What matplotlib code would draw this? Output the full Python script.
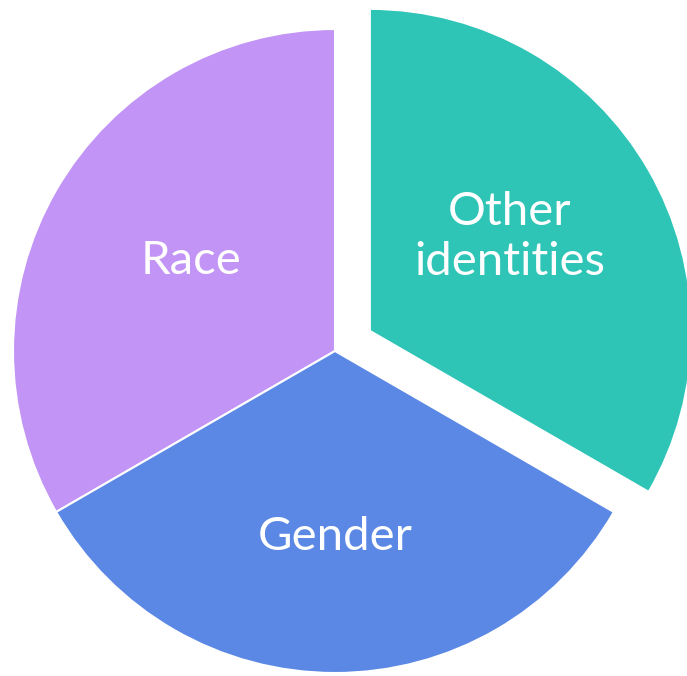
import matplotlib
matplotlib.use("Agg")
import matplotlib.pyplot as plt

labels = ["Other identities", "Race", "Gender"]
display_labels = ["Other\nidentities", "Race", "Gender"]
values = [1, 1, 1]
colors = ["#2EC4B6", "#C194F5", "#5B88E5"]
explode = [0.125, 0, 0]

W, H = 687, 676
R = 322.0
cx, cy_top = 335.0, 351.0
cy = H - cy_top

fig = plt.figure(figsize=(W / 100, H / 100), dpi=100)
ax = fig.add_axes([0, 0, 1, 1])
wedges, texts = ax.pie(values, labels=display_labels, colors=colors, explode=explode,
                       startangle=-30, counterclock=True, radius=1.0,
                       labeldistance=0.55,
                       wedgeprops=dict(edgecolor="white", linewidth=1.5),
                       textprops=dict(color="white", fontsize=34, family=["Lato", "DejaVu Sans"],
                                      weight="normal", linespacing=1.25))

# label centres (pixel positions)
label_px = [(510, 237), (191, 261), (335, 537)]
for t, (px, py) in zip(texts, label_px):
    t.set_position(((px - cx) / R, (cy_top - py) / R))
    t.set_horizontalalignment("center")
    t.set_verticalalignment("center")

ax.set_xlim(-cx / R, (W - cx) / R)
ax.set_ylim(-cy / R, (H - cy) / R)
ax.set_aspect("equal")
ax.axis("off")
fig.savefig("out.png", dpi=100)
